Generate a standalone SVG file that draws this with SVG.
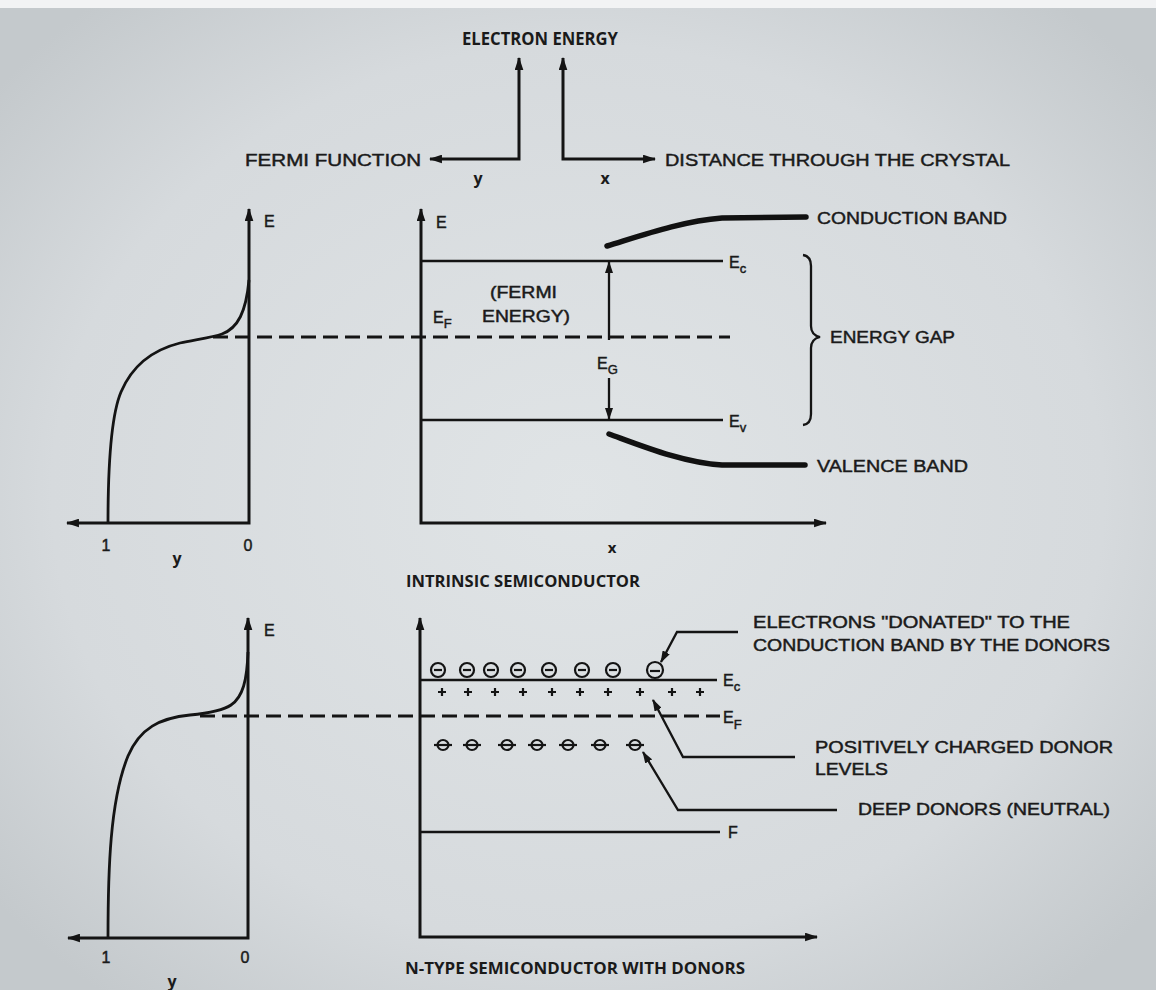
<svg xmlns="http://www.w3.org/2000/svg" width="1156" height="990" viewBox="0 0 1156 990">
<defs>
<radialGradient id="bg" cx="50%" cy="50%" r="65%">
<stop offset="0" stop-color="#e0e4e6"/>
<stop offset="0.7" stop-color="#d6dadd"/>
<stop offset="1" stop-color="#c4c9cc"/>
</radialGradient>
<marker id="ah" viewBox="0 0 12 8" refX="11" refY="4" markerWidth="13" markerHeight="9" markerUnits="userSpaceOnUse" orient="auto-start-reverse">
<path d="M0,0 L12,4 L0,8 z" fill="#141414"/>
</marker>
<marker id="ahs" viewBox="0 0 12 8" refX="11" refY="4" markerWidth="12" markerHeight="8" markerUnits="userSpaceOnUse" orient="auto-start-reverse">
<path d="M0,0 L12,4 L0,8 z" fill="#141414"/>
</marker>
</defs>
<style>
.ax{fill:none;stroke:#141414;stroke-width:3}
.ln{fill:none;stroke:#141414;stroke-width:2.3}
.thk{fill:none;stroke:#111;stroke-width:5.5;stroke-linecap:round}
.dash{fill:none;stroke:#141414;stroke-width:2.8;stroke-dasharray:15 7}
.crv{fill:none;stroke:#141414;stroke-width:2.8}
.t{font-family:"Liberation Sans",Arial,sans-serif;fill:#1a1a1a;stroke:#1a1a1a;stroke-width:0.45}
.b{font-family:"Open Sans","Liberation Sans",sans-serif;font-weight:bold;fill:#1a1a1a}
.lg{font-size:17px}
.md{font-size:16px}
.sm{font-size:16px}
.sub{font-size:13px}
.el{fill:none;stroke:#141414;stroke-width:2.2}
.pl{stroke:#141414;stroke-width:2.2}
</style>
<rect x="0" y="0" width="1156" height="990" fill="url(#bg)"/>
<rect x="0" y="0" width="1156" height="8" fill="#f2f3f4"/>

<g id="legend">
<path class="ax" d="M430,159 L519,159 L519,58" marker-start="url(#ah)" marker-end="url(#ah)"/>
<path class="ax" d="M655,159 L563,159 L563,58" marker-start="url(#ah)" marker-end="url(#ah)"/>
<text class="b" x="462" y="45" font-size="17" textLength="156" lengthAdjust="spacingAndGlyphs">ELECTRON ENERGY</text>
<text class="t lg" x="245" y="166" textLength="176" lengthAdjust="spacingAndGlyphs">FERMI FUNCTION</text>
<text class="t lg" x="665" y="166" textLength="345" lengthAdjust="spacingAndGlyphs">DISTANCE THROUGH THE CRYSTAL</text>
<text class="b" x="478" y="184" font-size="16" text-anchor="middle">y</text>
<text class="b" x="605" y="184" font-size="16" text-anchor="middle">x</text>
</g>

<g id="intrinsic-fermi">
<path class="ax" d="M67,523 L249,523 L249,209" marker-start="url(#ah)" marker-end="url(#ah)"/>
<path class="crv" d="M108,523 C108,470 110,418 121,392 C132,366 152,350 180,343 C200,339 214,337 222,334 C238,328 246,312 249,280"/>
<text class="t sm" x="264" y="227">E</text>
<text class="t sm" x="106" y="551" text-anchor="middle">1</text>
<text class="t sm" x="248" y="551" text-anchor="middle">0</text>
<text class="b" x="177" y="564" font-size="16" text-anchor="middle">y</text>
</g>

<g id="intrinsic-bands">
<path class="ax" d="M421,209 L421,523 L826,523" marker-start="url(#ah)" marker-end="url(#ah)"/>
<path class="dash" d="M213,337 L730,337"/>
<line class="ln" x1="421" y1="261" x2="723" y2="261"/>
<line class="ln" x1="421" y1="420" x2="723" y2="420"/>
<path class="ln" d="M609,340 L609,262" marker-end="url(#ahs)"/>
<path class="ln" d="M609,378 L609,419" marker-end="url(#ahs)"/>
<path class="thk" d="M607,246 C640,236 682,221 722,218 L806,217"/>
<path class="thk" d="M609,434 C642,446 684,463 722,465 L805,465"/>
<path class="ln" stroke-width="2.8" d="M803,255 Q811,256 811,266 L811,326 Q811,335 820,337 Q811,339 811,348 L811,414 Q811,424 803,425"/>
<text class="t sm" x="436" y="228">E</text>
<text class="t sm" x="729" y="268">E<tspan class="sub" dy="5">c</tspan></text>
<text class="t sm" x="729" y="427">E<tspan class="sub" dy="5">v</tspan></text>
<text class="t sm" x="433" y="323">E<tspan class="sub" dy="5">F</tspan></text>
<text class="t sm" x="597" y="369">E<tspan class="sub" dy="5">G</tspan></text>
<text class="t md" x="490" y="298" textLength="67" lengthAdjust="spacingAndGlyphs">(FERMI</text>
<text class="t md" x="482" y="322" textLength="88" lengthAdjust="spacingAndGlyphs">ENERGY)</text>
<text class="t lg" x="817" y="224" textLength="190" lengthAdjust="spacingAndGlyphs">CONDUCTION BAND</text>
<text class="t lg" x="830" y="343" textLength="125" lengthAdjust="spacingAndGlyphs">ENERGY GAP</text>
<text class="t lg" x="817" y="472" textLength="151" lengthAdjust="spacingAndGlyphs">VALENCE BAND</text>
<text class="b" x="612" y="553" font-size="15" text-anchor="middle">x</text>
<text class="b" x="406" y="587" font-size="16.5" textLength="234" lengthAdjust="spacingAndGlyphs">INTRINSIC SEMICONDUCTOR</text>
</g>

<g id="ntype-fermi">
<path class="ax" d="M68,938 L248,938 L248,618" marker-start="url(#ah)" marker-end="url(#ah)"/>
<path class="crv" d="M108,938 C108,870 110,800 128,756 C140,728 160,718 190,715 C210,713 224,710 231,705 C243,697 247,680 248,652"/>
<text class="t sm" x="264" y="636">E</text>
<text class="t sm" x="106" y="963" text-anchor="middle">1</text>
<text class="t sm" x="245" y="963" text-anchor="middle">0</text>
<text class="b" x="172" y="987" font-size="16" text-anchor="middle">y</text>
</g>

<g id="ntype-bands">
<path class="ax" d="M420,618 L420,937 L817,937" marker-start="url(#ah)" marker-end="url(#ah)"/>
<path class="dash" d="M200,716 L720,716"/>
<line class="ln" x1="420" y1="680" x2="717" y2="680"/>
<line class="ln" x1="420" y1="832" x2="720" y2="832"/>
<g id="electrons">
<circle class="el" cx="438" cy="670" r="7"/><line class="pl" x1="434" y1="670" x2="442" y2="670"/>
<circle class="el" cx="467" cy="670" r="7"/><line class="pl" x1="463" y1="670" x2="471" y2="670"/>
<circle class="el" cx="491" cy="670" r="7"/><line class="pl" x1="487" y1="670" x2="495" y2="670"/>
<circle class="el" cx="518" cy="670" r="7"/><line class="pl" x1="514" y1="670" x2="522" y2="670"/>
<circle class="el" cx="549" cy="670" r="7"/><line class="pl" x1="545" y1="670" x2="553" y2="670"/>
<circle class="el" cx="582" cy="670" r="7"/><line class="pl" x1="578" y1="670" x2="586" y2="670"/>
<circle class="el" cx="613" cy="670" r="7"/><line class="pl" x1="609" y1="670" x2="617" y2="670"/>
<circle class="el" cx="655" cy="670" r="8"/><line class="pl" x1="650" y1="671" x2="660" y2="671"/>
</g>
<g id="donor-levels" stroke="#141414" stroke-width="2.2">
<path d="M438,692 h8 M442,688 v8"/>
<path d="M464,692 h8 M468,688 v8"/>
<path d="M491,692 h8 M495,688 v8"/>
<path d="M519,692 h8 M523,688 v8"/>
<path d="M548,692 h8 M552,688 v8"/>
<path d="M576,692 h8 M580,688 v8"/>
<path d="M604,692 h8 M608,688 v8"/>
<path d="M636,692 h8 M640,688 v8"/>
<path d="M668,692 h8 M672,688 v8"/>
<path d="M696,692 h8 M700,688 v8"/>
</g>
<g id="deep-donors">
<ellipse class="el" cx="443" cy="745" rx="5.5" ry="5"/><line class="pl" stroke-width="3" x1="434" y1="745" x2="452" y2="745"/>
<ellipse class="el" cx="472" cy="745" rx="5.5" ry="5"/><line class="pl" stroke-width="3" x1="463" y1="745" x2="481" y2="745"/>
<ellipse class="el" cx="507" cy="745" rx="5.5" ry="5"/><line class="pl" stroke-width="3" x1="498" y1="745" x2="516" y2="745"/>
<ellipse class="el" cx="537" cy="745" rx="5.5" ry="5"/><line class="pl" stroke-width="3" x1="528" y1="745" x2="546" y2="745"/>
<ellipse class="el" cx="568" cy="745" rx="5.5" ry="5"/><line class="pl" stroke-width="3" x1="559" y1="745" x2="577" y2="745"/>
<ellipse class="el" cx="600" cy="745" rx="5.5" ry="5"/><line class="pl" stroke-width="3" x1="591" y1="745" x2="609" y2="745"/>
<ellipse class="el" cx="635" cy="745" rx="5.5" ry="5"/><line class="pl" stroke-width="3" x1="626" y1="745" x2="644" y2="745"/>
</g>
<text class="t sm" x="723" y="686">E<tspan class="sub" dy="5">c</tspan></text>
<text class="t sm" x="723" y="723">E<tspan class="sub" dy="6">F</tspan></text>
<text class="t sm" x="728" y="838">F</text>
<text class="t md" x="753" y="628" textLength="317" lengthAdjust="spacingAndGlyphs">ELECTRONS "DONATED" TO THE</text>
<text class="t md" x="753" y="651" textLength="357" lengthAdjust="spacingAndGlyphs">CONDUCTION BAND BY THE DONORS</text>
<text class="t md" x="815" y="753" textLength="298" lengthAdjust="spacingAndGlyphs">POSITIVELY CHARGED DONOR</text>
<text class="t md" x="815" y="775" textLength="73" lengthAdjust="spacingAndGlyphs">LEVELS</text>
<text class="t md" x="858" y="815" textLength="252" lengthAdjust="spacingAndGlyphs">DEEP DONORS (NEUTRAL)</text>
<text class="b" x="405" y="974" font-size="16.5" textLength="340" lengthAdjust="spacingAndGlyphs">N-TYPE SEMICONDUCTOR WITH DONORS</text>
</g>

<g id="connectors">
<path class="ln" d="M738,632 L677,632 L661,662" marker-end="url(#ahs)"/>
<path class="ln" d="M795,757 L683,757 L653,700" marker-end="url(#ahs)"/>
<path class="ln" d="M837,810 L678,810 L643,752" marker-end="url(#ahs)"/>
</g>
</svg>
